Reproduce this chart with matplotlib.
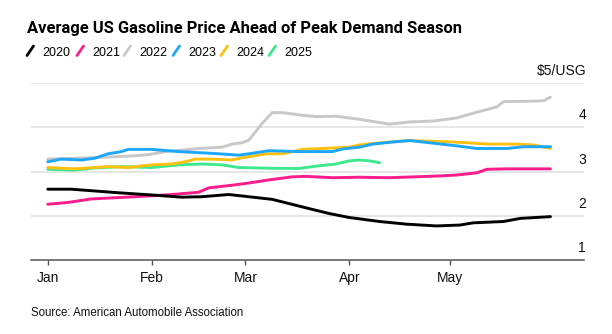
#! /usr/bin/env python3

#Average US gasoline price by day of year, one line per year
import matplotlib
matplotlib.use("Agg")
import matplotlib.pyplot as plt
from matplotlib.lines import Line2D

plt.rcParams['font.family'] = ['Liberation Sans', 'DejaVu Sans']

#Days counted from Jan 1, values in $/gallon
days_2020 = [0, 7, 21, 31, 40, 46, 54, 60, 67, 77, 84, 90, 99, 107, 116, 123, 127, 136, 141, 150]
price_2020 = [2.60, 2.60, 2.52, 2.47, 2.42, 2.43, 2.48, 2.43, 2.37, 2.18, 2.05, 1.96, 1.87, 1.81, 1.77, 1.79, 1.84, 1.87, 1.94, 1.98]

days_2021 = [0, 6, 13, 21, 31, 37, 45, 48, 55, 60, 66, 73, 77, 85, 93, 102, 117, 122, 128, 131, 137, 150]
price_2021 = [2.26, 2.30, 2.38, 2.41, 2.45, 2.48, 2.53, 2.63, 2.69, 2.74, 2.81, 2.88, 2.89, 2.86, 2.87, 2.86, 2.90, 2.92, 2.97, 3.05, 3.06, 3.06]

days_2022 = [0, 13, 25, 30, 36, 41, 45, 52, 55, 58, 60, 62, 64, 67, 70, 76, 80, 86, 93, 102, 108, 115, 122, 128, 134, 136, 145, 148, 150]
price_2022 = [3.28, 3.31, 3.35, 3.38, 3.46, 3.49, 3.52, 3.55, 3.62, 3.65, 3.71, 3.90, 4.09, 4.33, 4.33, 4.27, 4.24, 4.25, 4.18, 4.07, 4.12, 4.14, 4.21, 4.34, 4.46, 4.58, 4.59, 4.60, 4.68]

days_2023 = [0, 4, 10, 14, 18, 22, 24, 31, 39, 49, 57, 60, 66, 75, 85, 88, 93, 97, 102, 108, 115, 122, 128, 137, 142, 150]
price_2023 = [3.22, 3.28, 3.26, 3.30, 3.40, 3.45, 3.50, 3.50, 3.45, 3.41, 3.37, 3.40, 3.47, 3.45, 3.45, 3.51, 3.55, 3.62, 3.66, 3.70, 3.64, 3.58, 3.52, 3.52, 3.56, 3.56]

days_2024 = [0, 8, 14, 18, 24, 31, 37, 41, 44, 49, 55, 58, 62, 65, 70, 76, 82, 90, 93, 98, 108, 120, 125, 131, 140, 145, 150]
price_2024 = [3.09, 3.06, 3.09, 3.11, 3.09, 3.15, 3.17, 3.22, 3.28, 3.28, 3.26, 3.31, 3.36, 3.40, 3.40, 3.50, 3.52, 3.55, 3.60, 3.64, 3.70, 3.67, 3.65, 3.62, 3.62, 3.60, 3.52]

days_2025 = [0, 8, 14, 22, 31, 39, 46, 52, 57, 68, 75, 80, 86, 90, 93, 96, 99]
price_2025 = [3.05, 3.03, 3.08, 3.11, 3.09, 3.15, 3.17, 3.15, 3.09, 3.07, 3.07, 3.12, 3.17, 3.24, 3.26, 3.24, 3.20]

years = ['2020', '2021', '2022', '2023', '2024', '2025']
colors = ['#000000', '#fc1c8c', '#c8c8c8', '#1da7fb', '#fdc010', '#3de88f']

month_days = [0, 31, 59, 90, 120]
month_labels = ['Jan', 'Feb', 'Mar', 'Apr', 'May']
y_ticks = [1, 2, 3, 4, 5]
y_labels = ['1', '2', '3', '4', '$5/USG']

W, H = 612, 334

#Convert pixel positions to figure fractions
def fx(px):
    return px / W

def fy(py):
    return 1 - py / H

def make_chart():
    fig = plt.figure(figsize=(W / 100, H / 100), dpi=100)
    ax = fig.add_axes([fx(31), fy(260), fx(584) - fx(31), fy(83) - fy(260)])

    series = [(days_2020, price_2020), (days_2021, price_2021), (days_2022, price_2022),
              (days_2023, price_2023), (days_2024, price_2024), (days_2025, price_2025)]
    #Draw so that grey sits behind, then the others
    order = [2, 5, 1, 0, 4, 3]
    for i in order:
        d, p = series[i]
        ax.plot(d, p, color=colors[i], lw=2.1, solid_capstyle='round',
                solid_joinstyle='round', zorder=3 + order.index(i))

    ax.set_xlim(-5, 160)
    ax.set_ylim(1, 5)

    for v in y_ticks[1:]:
        ax.axhline(v, color='#e1e1e1', lw=1.2, zorder=1)
    for v, lab in zip(y_ticks, y_labels):
        ax.annotate(lab, xy=(1, v), xycoords=('axes fraction', 'data'),
                    xytext=(2, 12), textcoords='offset pixels',
                    ha='right', va='center', fontsize=10, color='#111111')

    for s in ['top', 'right', 'left']:
        ax.spines[s].set_visible(False)
    ax.spines['bottom'].set_color('#555555')
    ax.spines['bottom'].set_linewidth(1.1)
    ax.set_yticks([])
    ax.set_xticks(month_days)
    ax.set_xticklabels(month_labels, fontsize=10, color='#111111')
    ax.tick_params(axis='x', length=3.6, width=1.0, color='#555555', pad=4.5)

    fig.text(fx(27), fy(33), 'Average US Gasoline Price Ahead of Peak Demand Season',
             fontsize=11.9, fontweight='bold', va='baseline', ha='left',
             family=['Roboto', 'Liberation Sans'])

    #Legend: slanted strokes followed by the year
    legend_x = [27, 77, 124, 173, 221, 269]
    for x0, yr, c in zip(legend_x, years, colors):
        fig.add_artist(Line2D([fx(x0), fx(x0 + 6.5)], [fy(55.5), fy(46)],
                              color=c, lw=2.0, solid_capstyle='round'))
        fig.text(fx(x0 + 15), fy(55.5), yr, fontsize=9, va='baseline', ha='left')

    fig.text(fx(31), fy(316), 'Source: American Automobile Association',
             fontsize=8.3, va='baseline', ha='left', color='#111111')

    fig.savefig('out.png', dpi=100)

if __name__ == '__main__':
    make_chart()
